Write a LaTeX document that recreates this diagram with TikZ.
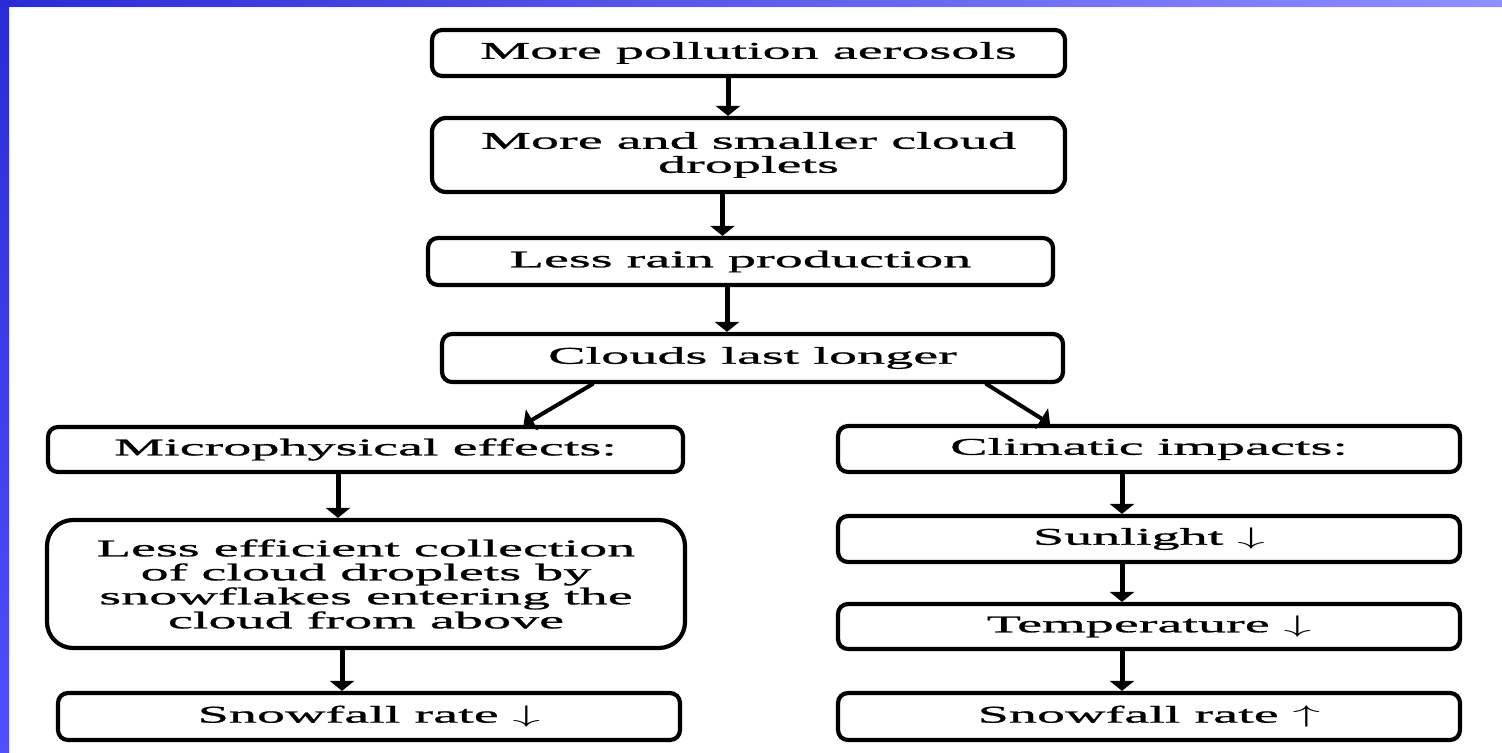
\documentclass[tikz,border=0pt]{standalone}
\usepackage{fontspec}
\usepackage{tikz}
\usetikzlibrary{arrows.meta}
\newfontfamily\boxfont{Liberation Serif}[FakeStretch=2.34,FakeBold=1]
\definecolor{bluedark}{rgb}{0.17,0.17,0.84}
\definecolor{bluelight}{rgb}{0.56,0.56,1.0}
\definecolor{blueleft}{rgb}{0.31,0.31,1.0}
\newcommand{\dn}{\scalebox{2.3}[1]{$\downarrow$}}
\newcommand{\up}{\scalebox{2.3}[1]{$\uparrow$}}

\begin{document}
\begin{tikzpicture}[line cap=round,line join=round,x=0.5pt,y=-0.5pt,
    box/.style={draw,line width=2.1pt,rounded corners=5pt,inner sep=0pt,align=center,
        font=\boxfont\fontsize{12}{12}\selectfont},
    arr/.style={line width=2.5pt,-{Triangle[length=5pt,width=12pt]}}]

    \useasboundingbox[fill=white] (0,0) rectangle (1502,753);
    \shade[left color=bluedark,right color=bluelight] (0,0) rectangle (1502,7);
    \shade[top color=bluedark,bottom color=blueleft] (0,0) rectangle (9,753);

    % middle column
    \node[box,minimum width=316.5pt,minimum height=23pt] (pollution) at (748.5,53) {More pollution aerosols};
    \node[box,minimum width=316.5pt,minimum height=37pt,rounded corners=7pt] (droplets) at (748.5,155) {More and smaller cloud\\droplets};
    \node[box,minimum width=312.5pt,minimum height=23.5pt] (rain) at (740.5,261.5) {Less rain production};
    \node[box,minimum width=310.5pt,minimum height=24pt] (clouds) at (752.5,358) {Clouds last longer};

    % left column
    \node[box,minimum width=317.5pt,minimum height=22.5pt] (micro) at (365.5,449.5) {Microphysical effects:};
    \node[box,minimum width=319pt,minimum height=64pt,rounded corners=13pt] (collect) at (366,584)
        {Less efficient collection\\of cloud droplets by\\snowflakes entering the\\cloud from above};
    \node[box,minimum width=311pt,minimum height=23.5pt] (snowdown) at (369,716.5) {Snowfall rate \dn};

    % right column
    \node[box,minimum width=311pt,minimum height=23pt] (climate) at (1149,449) {Climatic impacts:};
    \node[box,minimum width=311pt,minimum height=23pt] (sun) at (1149,539) {Sunlight \dn};
    \node[box,minimum width=311pt,minimum height=22.5pt] (temp) at (1149,626.5) {Temperature \dn};
    \node[box,minimum width=311pt,minimum height=23.5pt] (snowup) at (1149,716.5) {Snowfall rate \up};

    \draw[arr] ([xshift=-10.25pt]pollution.south) -- ([xshift=-10.25pt]droplets.north);
    \draw[arr] ([xshift=-13pt]droplets.south) -- ([xshift=-9pt]rain.north);
    \draw[arr] ([xshift=-6.75pt]rain.south) -- ([xshift=-12.75pt]clouds.north);
    \draw[arr,line width=2pt] ([xshift=-80pt]clouds.south) -- ([xshift=79pt]micro.north);
    \draw[arr,line width=2pt] ([xshift=117pt]clouds.south) -- ([xshift=-49.5pt]climate.north);

    \draw[arr] ([xshift=-13.75pt]micro.south) -- ([xshift=-14pt]collect.north);
    \draw[arr] ([xshift=-12pt]collect.south) -- ([xshift=-13.5pt]snowdown.north);

    \draw[arr] ([xshift=-13.5pt]climate.south) -- ([xshift=-13.5pt]sun.north);
    \draw[arr] ([xshift=-13.5pt]sun.south) -- ([xshift=-13.5pt]temp.north);
    \draw[arr] ([xshift=-13.5pt]temp.south) -- ([xshift=-13.5pt]snowup.north);
\end{tikzpicture}
\end{document}
